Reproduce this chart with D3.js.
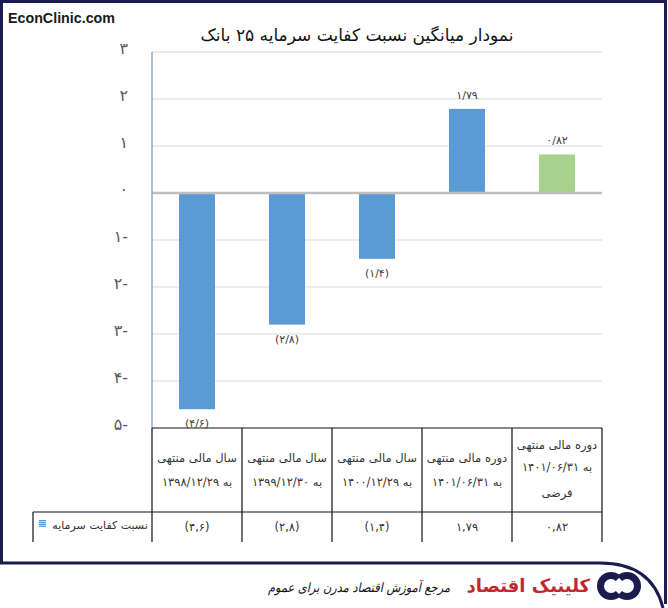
<!DOCTYPE html>
<html><head><meta charset="utf-8">
<script src="https://cdn.jsdelivr.net/npm/d3@7"></script>
<style>body{margin:0;background:#fff}svg{display:block}</style>
</head><body><svg id="c" width="668" height="608"></svg>
<script>
const categories = [
  ["سال مالی منتهی", "به ۱۳۹۸/۱۲/۲۹"],
  ["سال مالی منتهی", "به ۱۳۹۹/۱۲/۳۰"],
  ["سال مالی منتهی", "به ۱۴۰۰/۱۲/۲۹"],
  ["دوره مالی منتهی", "به ۱۴۰۱/۰۶/۳۱"],
  ["دوره مالی منتهی", "به ۱۴۰۱/۰۶/۳۱", "فرضی"]
];
const values = [-4.6, -2.8, -1.4, 1.79, 0.82];
const barLabels = ["(۴/۶)", "(۲/۸)", "(۱/۴)", "۱/۷۹", "۰/۸۲"];
const tableLabels = ["(۴,۶)", "(۲,۸)", "(۱,۴)", "۱,۷۹", "۰,۸۲"];
const barColors = ["#5b9bd5", "#5b9bd5", "#5b9bd5", "#5b9bd5", "#a9d18e"];
const yTicks = [3, 2, 1, 0, -1, -2, -3, -4, -5];
const yTickLabels = ["۳", "۲", "۱", "۰", "۱-", "۲-", "۳-", "۴-", "۵-"];
const title = "نمودار میانگین نسبت کفایت سرمایه ۲۵ بانک";
const seriesName = "نسبت کفایت سرمایه";
const brand = "EconClinic.com";
const footerName = "کلینیک اقتصاد";
const footerSlogan = "مرجع آموزش اقتصاد مدرن برای عموم";

(function () {
const FONT = "'DejaVu Sans', sans-serif";
const svg = d3.select("#c");
const W = 668, H = 608;
const pL = 152, pR = 602, pT = 52, pB = 428;
const tableBottom = 542, rowDiv = 512, legendLeft = 33;

const x = d3.scaleBand().domain(d3.range(categories.length)).range([pL, pR]).paddingInner(0.6).paddingOuter(0.3);
const xCell = d3.scaleBand().domain(d3.range(categories.length)).range([pL, pR]);
const y = d3.scaleLinear().domain([-5, 3]).range([pB, pT]);

svg.append("rect").attr("width", W).attr("height", H).attr("fill", "#fff");

// frame
const navy = "#1c1b50";
svg.append("path")
  .attr("d", `M1.5,564 V1.5 H665.5 V604`)
  .attr("fill", "none").attr("stroke", navy).attr("stroke-width", 3);
svg.append("path")
  .attr("d", `M0,563 H600 Q652,563 663,608`)
  .attr("fill", "none").attr("stroke", navy).attr("stroke-width", 3);

// brand
svg.append("text").attr("x", 8).attr("y", 23).text(brand)
  .attr("font-family", "'Liberation Sans', Arial, sans-serif").attr("font-weight", "bold")
  .attr("font-size", 15.5).attr("fill", "#1a1a1a").attr("textLength", 107).attr("lengthAdjust", "spacingAndGlyphs");

// title
svg.append("text").attr("x", 357).attr("y", 41).attr("text-anchor", "middle").attr("direction", "rtl")
  .attr("font-family", FONT).attr("font-size", 17).attr("fill", "#111").text(title);

// gridlines
svg.append("g").selectAll("line").data(yTicks.filter(d => d > -5 && d !== 0)).join("line")
  .attr("x1", pL).attr("x2", pR).attr("y1", d => y(d)).attr("y2", d => y(d))
  .attr("stroke", "#d9d9d9").attr("stroke-width", 1);

// y axis
const yAxis = d3.axisLeft(y).tickValues(yTicks).tickFormat((d, i) => yTickLabels[i]).tickSize(0).tickPadding(24);
const ga = svg.append("g").attr("transform", `translate(${pL},0)`).call(yAxis);
ga.select(".domain").remove();
ga.selectAll("text").attr("font-family", FONT).attr("font-size", 16).attr("fill", "#595959")
  .attr("direction", "ltr").attr("dy", "0.1em");

// bars
svg.append("g").selectAll("rect").data(values).join("rect")
  .attr("x", (d, i) => x(i)).attr("width", x.bandwidth())
  .attr("y", d => y(Math.max(0, d))).attr("height", d => Math.abs(y(d) - y(0)))
  .attr("fill", (d, i) => barColors[i]);

// zero line
svg.append("line").attr("x1", pL).attr("x2", pR).attr("y1", y(0)).attr("y2", y(0))
  .attr("stroke", "#bfbfbf").attr("stroke-width", 2.5);

// y axis line
svg.append("line").attr("x1", pL).attr("x2", pL).attr("y1", pT).attr("y2", pB)
  .attr("stroke", "#8eaacb").attr("stroke-width", 1.5);

// bar labels
svg.append("g").selectAll("text").data(values).join("text")
  .attr("x", (d, i) => x(i) + x.bandwidth() / 2)
  .attr("y", d => d >= 0 ? y(d) - 10 : y(d) + 18)
  .attr("text-anchor", "middle").attr("direction", "ltr")
  .attr("font-family", FONT).attr("font-size", 11).attr("fill", "#404040")
  .text((d, i) => barLabels[i]);

// table
const tg = svg.append("g").attr("stroke", "#111").attr("stroke-width", 1.2);
tg.append("line").attr("x1", pL).attr("x2", pR).attr("y1", pB).attr("y2", pB);
tg.append("line").attr("x1", legendLeft).attr("x2", pR).attr("y1", rowDiv).attr("y2", rowDiv);
tg.selectAll("line.v").data(d3.range(categories.length + 1)).join("line").attr("class", "v")
  .attr("x1", i => i < categories.length ? xCell(i) : pR)
  .attr("x2", i => i < categories.length ? xCell(i) : pR)
  .attr("y1", pB).attr("y2", tableBottom);
tg.append("line").attr("x1", legendLeft).attr("x2", legendLeft).attr("y1", rowDiv).attr("y2", tableBottom);

// category labels
const cg = svg.append("g");
categories.forEach((lines, i) => {
  const cx = xCell(i) + xCell.bandwidth() / 2;
  const ys = lines.length === 2 ? [462, 486] : [449, 471, 497];
  lines.forEach((t, j) => {
    cg.append("text").attr("x", cx).attr("y", ys[j]).attr("text-anchor", "middle").attr("direction", "rtl")
      .attr("font-family", FONT).attr("font-size", 11.5).attr("fill", "#333").text(t);
  });
});

// value row
svg.append("g").selectAll("text").data(tableLabels).join("text")
  .attr("x", (d, i) => xCell(i) + xCell.bandwidth() / 2).attr("y", 531)
  .attr("text-anchor", "middle").attr("direction", "ltr")
  .attr("font-family", FONT).attr("font-size", 11.5).attr("fill", "#333").text(d => d);

// legend
const sw = svg.append("g");
sw.append("rect").attr("x", 39).attr("y", 520).attr("width", 7).attr("height", 7).attr("fill", "#5b9bd5");
[521.5, 523.5, 525.5].forEach(v => sw.append("line").attr("x1", 39).attr("x2", 46).attr("y1", v).attr("y2", v).attr("stroke", "#fff").attr("stroke-width", 0.6));
svg.append("text").attr("x", 100).attr("y", 529).attr("text-anchor", "middle").attr("direction", "rtl")
  .attr("font-family", FONT).attr("font-size", 11).attr("fill", "#333").text(seriesName);

// footer
svg.append("text").attr("x", 590).attr("y", 592).attr("text-anchor", "start").attr("direction", "rtl")
  .attr("font-family", FONT).attr("font-weight", "bold").attr("font-size", 18).attr("fill", "#c1272d").text(footerName);
svg.append("text").attr("x", 450).attr("y", 592).attr("text-anchor", "start").attr("direction", "rtl")
  .attr("font-family", FONT).attr("font-style", "italic").attr("font-size", 13).attr("fill", "#111")
  .attr("textLength", 182).attr("lengthAdjust", "spacingAndGlyphs").text(footerSlogan);
const arc = d3.arc();
svg.append("path").attr("transform", "translate(611,586)")
  .attr("d", arc({innerRadius: 7, outerRadius: 14, startAngle: 0.75 * Math.PI, endAngle: 2.25 * Math.PI})).attr("fill", navy);
svg.append("path").attr("transform", "translate(627,586)")
  .attr("d", arc({innerRadius: 7, outerRadius: 14, startAngle: -0.25 * Math.PI, endAngle: 1.25 * Math.PI})).attr("fill", navy);
})();
</script></body></html>
